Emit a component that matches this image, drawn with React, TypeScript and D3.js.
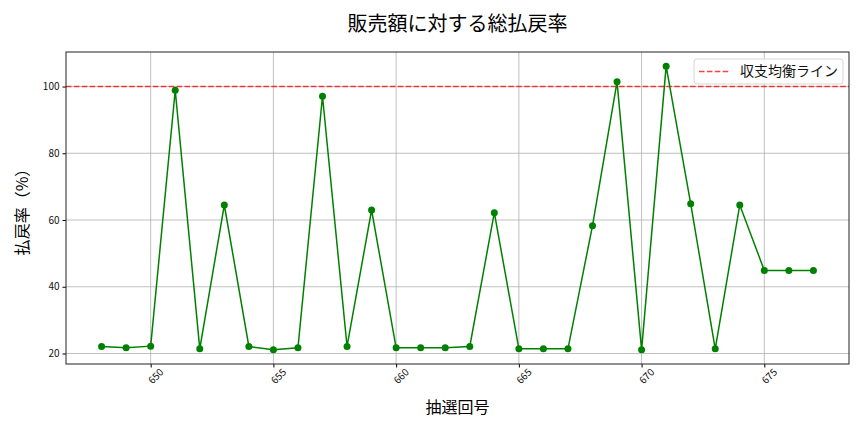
import React, { useEffect, useRef } from "react";
import * as d3 from "d3";

// 抽選回号
const draws = [
  648, 649, 650, 651, 652, 653, 654, 655, 656, 657, 658, 659, 660, 661, 662,
  663, 664, 665, 666, 667, 668, 669, 670, 671, 672, 673, 674, 675, 676, 677,
];
// 払戻率 (%)
const payoutRates = [
  22.1, 21.7, 22.2, 98.9, 21.4, 64.5, 22.1, 21.1, 21.7, 97.1, 22.1, 63.0, 21.7,
  21.7, 21.7, 22.1, 62.2, 21.4, 21.4, 21.4, 58.3, 101.4, 21.1, 106.1, 64.9,
  21.4, 64.5, 44.9, 44.9, 44.9,
];
const xTicks = [650, 655, 660, 665, 670, 675];
const yTicks = [20, 40, 60, 80, 100];
const breakEven = 100;

const FONT = "'Noto Sans CJK JP', 'DejaVu Sans', sans-serif";

const App: React.FC = () => {
  const svgRef = useRef<SVGSVGElement | null>(null);

  useEffect(() => {
    if (!svgRef.current) return;
    const width = 864;
    const height = 432;
    const margin = { top: 52, right: 15, bottom: 68, left: 66 };
    const innerWidth = width - margin.left - margin.right;
    const innerHeight = height - margin.top - margin.bottom;

    const svg = d3.select(svgRef.current);
    svg.selectAll("*").remove();
    svg.attr("width", width).attr("height", height);

    svg.append("rect").attr("width", width).attr("height", height).attr("fill", "#fff");

    const chart = svg
      .append("g")
      .attr("transform", `translate(${margin.left}, ${margin.top})`);

    // matplotlib-style 5% margins
    const xExt = d3.extent(draws) as [number, number];
    const xPad = (xExt[1] - xExt[0]) * 0.05;
    const xScale = d3
      .scaleLinear()
      .domain([xExt[0] - xPad, xExt[1] + xPad])
      .range([0, innerWidth]);

    const yExt = d3.extent(payoutRates) as [number, number];
    const yPad = (yExt[1] - yExt[0]) * 0.05;
    const yScale = d3
      .scaleLinear()
      .domain([yExt[0] - yPad, yExt[1] + yPad])
      .range([innerHeight, 0]);

    // Grid
    chart
      .append("g")
      .selectAll("line")
      .data(xTicks)
      .join("line")
      .attr("x1", (d) => xScale(d))
      .attr("x2", (d) => xScale(d))
      .attr("y1", 0)
      .attr("y2", innerHeight)
      .attr("stroke", "#b0b0b0")
      .attr("stroke-width", 0.8);
    chart
      .append("g")
      .selectAll("line")
      .data(yTicks)
      .join("line")
      .attr("x1", 0)
      .attr("x2", innerWidth)
      .attr("y1", (d) => yScale(d))
      .attr("y2", (d) => yScale(d))
      .attr("stroke", "#b0b0b0")
      .attr("stroke-width", 0.8);

    // Axes
    const xAxis = chart
      .append("g")
      .attr("transform", `translate(0, ${innerHeight})`)
      .call(d3.axisBottom(xScale).tickValues(xTicks).tickFormat(d3.format("d")).tickSize(3.5).tickSizeOuter(0));
    xAxis.select(".domain").remove();
    xAxis
      .selectAll("text")
      .attr("font-family", FONT)
      .attr("font-size", 10)
      .attr("fill", "#111")
      .attr("text-anchor", "end")
      .attr("dx", "0.3em")
      .attr("dy", "0.9em")
      .attr("transform", "rotate(-45)");

    const yAxis = chart
      .append("g")
      .call(d3.axisLeft(yScale).tickValues(yTicks).tickSize(3.5).tickSizeOuter(0));
    yAxis.select(".domain").remove();
    yAxis
      .selectAll("text")
      .attr("font-family", FONT)
      .attr("font-size", 10)
      .attr("fill", "#111");

    // Break-even line
    chart
      .append("line")
      .attr("x1", 0)
      .attr("x2", innerWidth)
      .attr("y1", yScale(breakEven))
      .attr("y2", yScale(breakEven))
      .attr("stroke", "red")
      .attr("stroke-opacity", 0.75)
      .attr("stroke-width", 1.5)
      .attr("stroke-dasharray", "5.5,2.4");

    // Series line + markers
    const pts = draws.map((d, i) => [d, payoutRates[i]] as [number, number]);
    const line = d3
      .line<[number, number]>()
      .x((d) => xScale(d[0]))
      .y((d) => yScale(d[1]));
    chart
      .append("path")
      .datum(pts)
      .attr("fill", "none")
      .attr("stroke", "green")
      .attr("stroke-width", 1.5)
      .attr("d", line);
    chart
      .append("g")
      .selectAll("circle")
      .data(pts)
      .join("circle")
      .attr("cx", (d) => xScale(d[0]))
      .attr("cy", (d) => yScale(d[1]))
      .attr("r", 3.5)
      .attr("fill", "green");

    // Frame
    chart
      .append("rect")
      .attr("width", innerWidth)
      .attr("height", innerHeight)
      .attr("fill", "none")
      .attr("stroke", "#222")
      .attr("stroke-width", 1);

    // Legend
    const lg = chart.append("g").attr("transform", `translate(${innerWidth - 155}, 7)`);
    lg.append("rect")
      .attr("width", 149)
      .attr("height", 25)
      .attr("rx", 3)
      .attr("fill", "#fff")
      .attr("fill-opacity", 0.8)
      .attr("stroke", "#d6d6d6");
    lg.append("line")
      .attr("x1", 5)
      .attr("x2", 35)
      .attr("y1", 12.5)
      .attr("y2", 12.5)
      .attr("stroke", "red")
      .attr("stroke-opacity", 0.75)
      .attr("stroke-width", 1.5)
      .attr("stroke-dasharray", "5.5,2.4");
    lg.append("text")
      .attr("x", 46)
      .attr("y", 12.5)
      .attr("dy", "0.35em")
      .attr("font-family", FONT)
      .attr("font-size", 14)
      .attr("fill", "#111")
      .text("収支均衡ライン");

    // Title and axis labels
    svg
      .append("text")
      .attr("x", margin.left + innerWidth / 2)
      .attr("y", 24)
      .attr("dy", "0.35em")
      .attr("text-anchor", "middle")
      .attr("font-family", FONT)
      .attr("font-size", 20)
      .attr("font-weight", 400)
      .attr("fill", "#000")
      .text("販売額に対する総払戻率");

    svg
      .append("text")
      .attr("x", margin.left + innerWidth / 2)
      .attr("y", 407)
      .attr("dy", "0.35em")
      .attr("text-anchor", "middle")
      .attr("font-family", FONT)
      .attr("font-size", 16)
      .attr("fill", "#000")
      .text("抽選回号");

    svg
      .append("text")
      .attr("transform", `translate(22, ${margin.top + innerHeight / 2}) rotate(-90)`)
      .attr("dy", "0.35em")
      .attr("text-anchor", "middle")
      .attr("font-family", FONT)
      .attr("font-size", 16)
      .attr("fill", "#000")
      .text("払戻率（%）");
  }, []);

  return (
    <div style={{ position: "absolute", left: 0, top: 0, width: 864, height: 432 }}>
      <svg ref={svgRef} style={{ display: "block" }} />
    </div>
  );
};

export default App;
